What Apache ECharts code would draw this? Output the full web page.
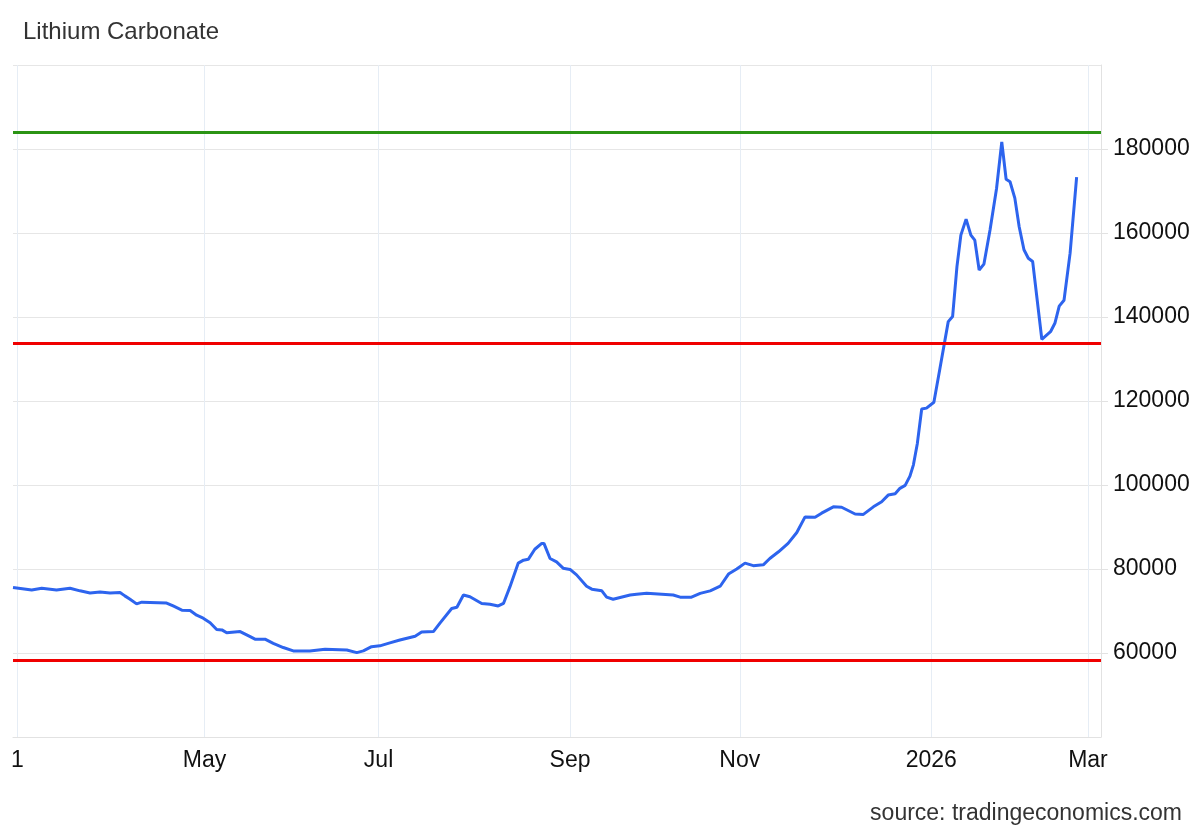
<!DOCTYPE html>
<html>
<head>
<meta charset="utf-8">
<title>Lithium Carbonate</title>
<script src="https://cdn.jsdelivr.net/npm/echarts@6/dist/echarts.min.js"></script>
<style>
  html, body { margin: 0; padding: 0; background: #fff; }
  #chart { width: 1200px; height: 832px; }
</style>
</head>
<body>
<div id="chart"></div>
<script>
// x = trading-day index (0 = last session of Feb 2025), holidays are skipped
var dayIndex = [
  0, 4.3, 6.6, 10.0, 13.1, 15.4, 17.7, 20.0, 22.3, 24.6,
  25.7, 26.9, 28.4, 29.6, 35.3, 36.8, 38.8, 40.7, 42.2, 43.7,
  45.3, 46.8, 48.0, 49.1, 52.2, 54.5, 55.6, 57.9, 59.8, 62.1,
  64.4, 68.2, 71.7, 76.7, 79.0, 80.5, 82.4, 84.3, 86.6, 88.9,
  92.4, 93.9, 96.6, 98.1, 100.8, 102.0, 103.5, 105.0, 107.7, 109.6,
  111.5, 112.7, 114.2, 116.1, 117.3, 118.4, 119.9, 121.5, 122.0, 123.4,
  124.9, 126.4, 128.0, 129.5, 131.8, 133.0, 135.3, 136.4, 137.9, 141.8,
  143.3, 145.6, 151.7, 153.3, 155.9, 157.9, 160.2, 162.5, 164.4, 166.3,
  168.2, 170.1, 172.4, 173.9, 175.9, 178.1, 180.1, 182.0, 184.3, 185.8,
  188.5, 190.4, 193.5, 195.4, 197.7, 199.6, 201.1, 202.7, 203.8, 205.0,
  206.1, 206.9, 207.8, 208.8, 209.9, 211.6, 213.0, 214.9, 215.9, 216.9,
  217.8, 219.0, 220.1, 221.0, 222.0, 223.1, 224.5, 226.0, 227.2, 228.2,
  229.1, 230.2, 231.2, 232.3, 233.3, 234.3, 236.4, 238.4, 239.4, 240.4,
  241.5, 242.9, 244.4
];
// price in CNY/t
var price = [
  75600, 75000, 75400, 75000, 75400, 74800, 74300, 74500, 74300, 74400,
  73600, 72800, 71700, 72100, 71900, 71200, 70200, 70100, 69000, 68300,
  67200, 65600, 65500, 64800, 65100, 63900, 63300, 63300, 62300, 61300,
  60500, 60500, 60900, 60700, 60100, 60500, 61500, 61700, 62400, 63100,
  64000, 65000, 65100, 67100, 70600, 70900, 73800, 73400, 71800, 71600,
  71200, 71800, 75800, 81400, 82100, 82300, 84700, 86100, 86100, 82500,
  81700, 80200, 79900, 78600, 75900, 75200, 74800, 73300, 72800, 73800,
  74000, 74200, 73800, 73300, 73300, 74200, 74800, 75900, 78800, 80000,
  81400, 80800, 81000, 82500, 84100, 86100, 88700, 92400, 92300, 93300,
  94800, 94700, 93100, 93000, 94800, 96000, 97600, 97900, 99200, 99900,
  102100, 104800, 109900, 118100, 118300, 119700, 127800, 138900, 140100, 152000,
  159500, 163300, 159500, 158300, 151200, 152600, 160700, 170600, 181700, 172800,
  172200, 168300, 161500, 156000, 154000, 153200, 134700, 136500, 138500, 142600,
  144000, 155200, 173300
];
// month starts on the x axis
var tickIndex = [1, 44, 84, 128, 167, 211, 247];
var tickLabels = ['1', 'May', 'Jul', 'Sep', 'Nov', '2026', 'Mar'];
// horizontal levels
var upperLevel = 184000;
var lowerLevels = [133700, 58200];

var FONT = "'Liberation Sans', Arial, sans-serif";

var chart = echarts.init(document.getElementById('chart'));

var seriesData = dayIndex.map(function (d, i) { return [d, price[i]]; });

var marks = [{ yAxis: upperLevel, lineStyle: { color: '#2b9414' } }];
lowerLevels.forEach(function (v) {
  marks.push({ yAxis: v, lineStyle: { color: '#f00000' } });
});

chart.setOption({
  animation: false,
  backgroundColor: '#fff',
  title: [
    {
      text: 'Lithium Carbonate',
      left: 23,
      top: 20,
      padding: 0,
      textStyle: { fontFamily: FONT, fontSize: 24, fontWeight: 'normal', color: '#333' }
    },
    {
      text: 'source: tradingeconomics.com',
      right: 18,
      top: 802,
      padding: 0,
      textStyle: { fontFamily: FONT, fontSize: 23, fontWeight: 'normal', color: '#333' }
    }
  ],
  grid: { left: 13, right: 99, top: 65, bottom: 95, containLabel: false },
  xAxis: {
    type: 'value',
    min: 0,
    max: 250,
    axisLine: { show: true, onZero: false, lineStyle: { color: '#e2e2e2', width: 1 } },
    axisTick: { show: false, customValues: tickIndex },
    axisLabel: {
      customValues: tickIndex,
      margin: 12,
      color: '#111',
      fontSize: 23,
      fontFamily: FONT,
      formatter: function (v) {
        var k = tickIndex.indexOf(v);
        return k >= 0 ? tickLabels[k] : '';
      }
    },
    splitLine: { show: true, lineStyle: { color: '#e6edf5', width: 1 } }
  },
  yAxis: {
    type: 'value',
    position: 'right',
    min: 40000,
    max: 200000,
    interval: 20000,
    axisLine: { show: true, onZero: false, lineStyle: { color: '#e2e2e2', width: 1 } },
    axisTick: { show: true, length: 7, lineStyle: { color: '#e2e2e2' } },
    axisLabel: {
      showMinLabel: false,
      showMaxLabel: false,
      margin: 12,
      color: '#111',
      fontSize: 23,
      fontFamily: FONT,
      formatter: function (v) { return String(v); }
    },
    splitLine: { show: true, lineStyle: { color: '#e6e6e6', width: 1 } }
  },
  series: [
    {
      type: 'line',
      data: seriesData,
      showSymbol: false,
      smooth: false,
      lineStyle: { color: '#2d64ee', width: 3 },
      itemStyle: { color: '#2d64ee' },
      markLine: {
        silent: true,
        symbol: ['none', 'none'],
        label: { show: false },
        lineStyle: { type: 'solid', width: 3 },
        data: marks
      }
    }
  ]
});
</script>
</body>
</html>
